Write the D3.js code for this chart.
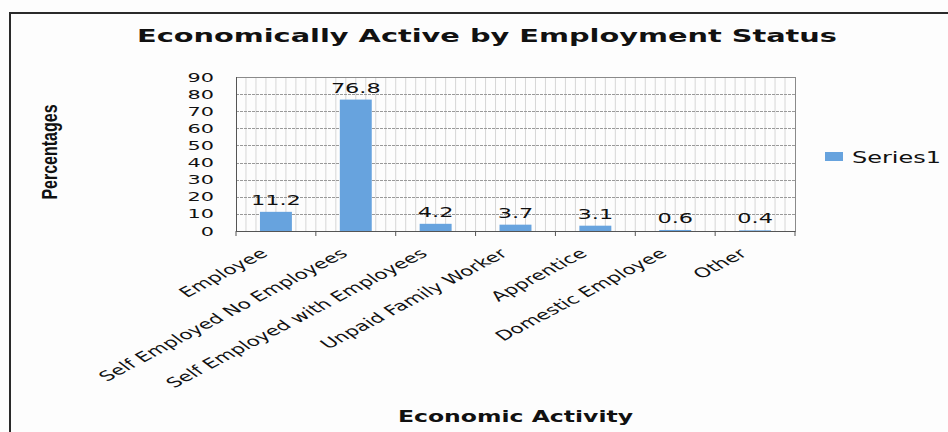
<!DOCTYPE html>
<html>
<head>
<meta charset="utf-8">
<script src="https://cdn.jsdelivr.net/npm/d3@7/dist/d3.min.js"></script>
<style>
  html, body { margin: 0; padding: 0; background: #fdfdfd; }
  svg { display: block; }
</style>
</head>
<body>
<svg id="chart" width="948" height="432"></svg>
<script>
const categories = ["Employee", "Self Employed No Employees", "Self Employed with Employees",
  "Unpaid Family Worker", "Apprentice", "Domestic Employee", "Other"];
const values = [11.2, 76.8, 4.2, 3.7, 3.1, 0.6, 0.4];
const yTicks = [0, 10, 20, 30, 40, 50, 60, 70, 80, 90];
const seriesName = "Series1";
const chartTitle = "Economically Active by Employment Status";
const xTitle = "Economic Activity";
const yTitle = "Percentages";

const SX = 1.6; // horizontal stretch of the scanned picture
const svg = d3.select("#chart");
const plot = { left: 236, right: 795, top: 77, bottom: 231 };

// frame
svg.append("path").attr("d", "M10,432 L10,13 L948,13")
  .attr("fill", "none").attr("stroke", "#2a2a2a").attr("stroke-width", 2);

const x = d3.scaleBand().domain(categories).range([plot.left, plot.right]).paddingInner(0.6).paddingOuter(0.3);
const xb = d3.scaleBand().domain(categories).range([plot.left, plot.right]);
const y = d3.scaleLinear().domain([0, 90]).range([plot.bottom, plot.top]);

// minor vertical grid
const vg = d3.range(plot.left, plot.right, (plot.right - plot.left) / 56);
svg.append("g").selectAll("line").data(vg.slice(1)).join("line")
  .attr("x1", d => d).attr("x2", d => d).attr("y1", plot.top).attr("y2", plot.bottom)
  .attr("stroke", "#d6d6d6").attr("stroke-width", 1);

// horizontal grid
svg.append("g").selectAll("line").data(yTicks.slice(1)).join("line")
  .attr("x1", plot.left).attr("x2", plot.right)
  .attr("y1", d => Math.round(y(d)) + 0.5).attr("y2", d => Math.round(y(d)) + 0.5)
  .attr("stroke", "#999").attr("stroke-width", 1).attr("stroke-dasharray", "3,1");

// plot border
svg.append("rect").attr("x", plot.left + 0.5).attr("y", plot.top + 0.5)
  .attr("width", plot.right - plot.left).attr("height", plot.bottom - plot.top)
  .attr("fill", "none").attr("stroke", "#8a8a8a");

// bars
svg.append("g").selectAll("rect").data(values).join("rect")
  .attr("x", (d, i) => x(categories[i]))
  .attr("width", x.bandwidth())
  .attr("y", d => y(d))
  .attr("height", d => y(0) - y(d))
  .attr("fill", "#67a3de");

// axes lines
svg.append("line").attr("x1", plot.left + 0.5).attr("x2", plot.left + 0.5)
  .attr("y1", plot.top).attr("y2", plot.bottom).attr("stroke", "#555");
svg.append("line").attr("x1", plot.left).attr("x2", plot.right)
  .attr("y1", plot.bottom + 0.5).attr("y2", plot.bottom + 0.5).attr("stroke", "#555");
// category tick marks
svg.append("g").selectAll("line").data(categories.concat([null])).join("line")
  .attr("x1", (d, i) => plot.left + i * xb.bandwidth()).attr("x2", (d, i) => plot.left + i * xb.bandwidth())
  .attr("y1", plot.bottom).attr("y2", plot.bottom + 5).attr("stroke", "#555");

const font = "'DejaVu Sans', Verdana, sans-serif";

// y tick labels
svg.append("g").selectAll("text").data(yTicks).join("text")
  .attr("transform", d => `translate(214,${y(d) + 4.5}) scale(${SX},1)`)
  .attr("text-anchor", "end").attr("font-family", font).attr("font-size", 13)
  .attr("fill", "#111").text(d => d);

// value labels
svg.append("g").selectAll("text").data(values).join("text")
  .attr("transform", (d, i) => `translate(${x(categories[i]) + x.bandwidth() / 2},${y(d) - 7}) scale(${SX},1)`)
  .attr("text-anchor", "middle").attr("font-family", font).attr("font-size", 14)
  .attr("fill", "#111").text(d => d.toFixed(1));

// category labels
svg.append("g").selectAll("text").data(categories).join("text")
  .attr("transform", d => `translate(${x(d) + x.bandwidth() / 2 - 7},255) scale(${SX},1) rotate(-40)`)
  .attr("text-anchor", "end").attr("font-family", font).attr("font-size", 13.5)
  .attr("fill", "#111").text(d => d);

// title
svg.append("text")
  .attr("transform", `translate(487,42) scale(${SX},1)`)
  .attr("text-anchor", "middle").attr("font-family", font).attr("font-weight", "bold")
  .attr("font-size", 18).attr("fill", "#111").text(chartTitle);

// x title
svg.append("text")
  .attr("transform", `translate(${(plot.left + plot.right) / 2},422) scale(1.47,1)`)
  .attr("text-anchor", "middle").attr("font-family", font).attr("font-weight", "bold")
  .attr("font-size", 16).attr("fill", "#111").text(xTitle);

// y title
svg.append("text")
  .attr("transform", `translate(57,152) scale(1.35,1) rotate(-90)`)
  .attr("text-anchor", "middle").attr("font-family", "'Liberation Sans Narrow', 'Arial Narrow', sans-serif")
  .attr("font-weight", "bold").attr("font-size", 16).attr("fill", "#111").text(yTitle);

// legend
const lg = svg.append("g").attr("transform", "translate(825,152)");
lg.append("rect").attr("width", 18).attr("height", 9).attr("fill", "#67a3de");
lg.append("text").attr("transform", `translate(27,11) scale(${SX},1)`)
  .attr("font-family", font).attr("font-size", 15).attr("fill", "#111").text(seriesName);
</script>
</body>
</html>
